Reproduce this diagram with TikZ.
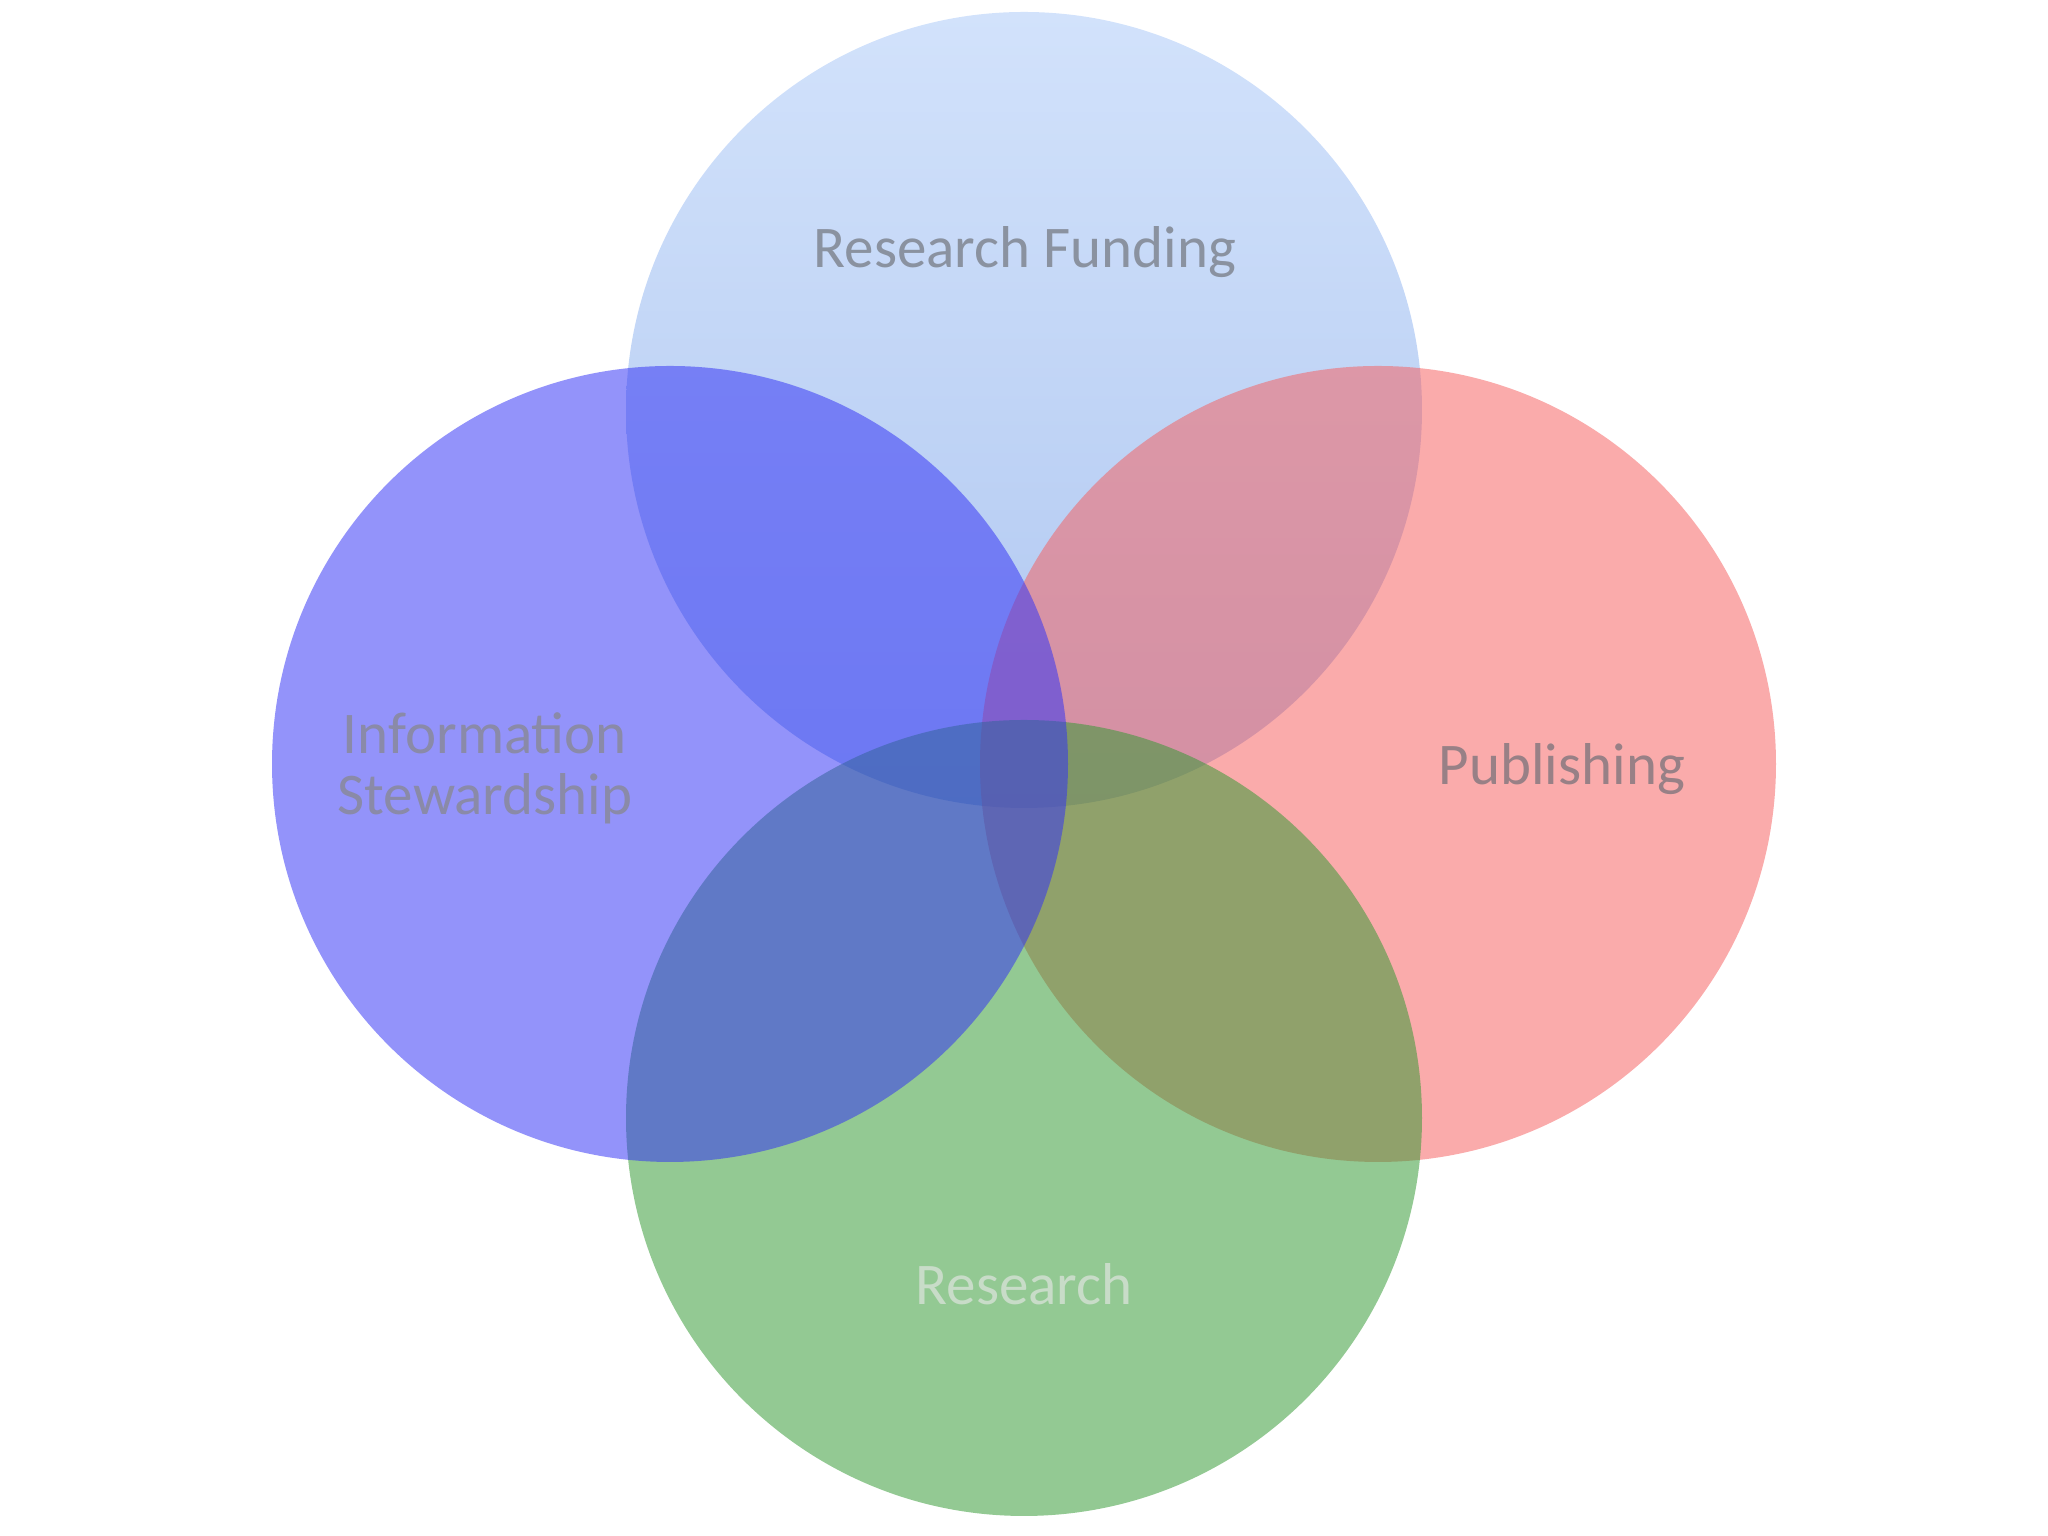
\documentclass[tikz,border=0pt]{standalone}
\usepackage{fontspec}
\setmainfont{Carlito}
\usetikzlibrary{positioning}

\definecolor{fundtop}{RGB}{210,226,251}
\definecolor{fundbot}{RGB}{174,198,240}
\definecolor{infoblue}{RGB}{51,51,245}
\definecolor{pubred}{RGB}{245,97,97}
\definecolor{resgreen}{RGB}{51,153,51}
\definecolor{labgray}{RGB}{138,146,160}
\definecolor{labpurple}{RGB}{138,138,168}
\definecolor{labrose}{RGB}{152,128,134}
\definecolor{labpale}{RGB}{200,220,200}

\begin{document}
\begin{tikzpicture}[
  blob/.style={fill opacity=0.53},
  label/.style={font=\fontsize{16.8}{17.6}\selectfont, align=center, anchor=base, inner sep=0pt}
]
\useasboundingbox (0,0) rectangle (20.48,15.36);
\coordinate (M) at (10.24,7.72);

% four circles, top one first
\shade[top color=fundtop, bottom color=fundbot] ([yshift=3.54cm]M) circle (3.98);
\fill[blob, pubred] ([xshift=3.54cm]M) circle (3.98);
\fill[blob, resgreen] ([yshift=-3.54cm]M) circle (3.98);
\fill[blob, infoblue] ([xshift=-3.54cm]M) circle (3.98);

% labels
\node[label, text=labgray] (fund) at (10.25,12.68) {Research Funding};
\node[label, text=labpurple] (info) at (4.85,7.21) {Information\\Stewardship};
\node[label, text=labrose] (pub) at (15.62,7.51) {Publishing};
\node[label, text=labpale] (res) at (10.24,2.31) {Research};
\end{tikzpicture}
\end{document}
